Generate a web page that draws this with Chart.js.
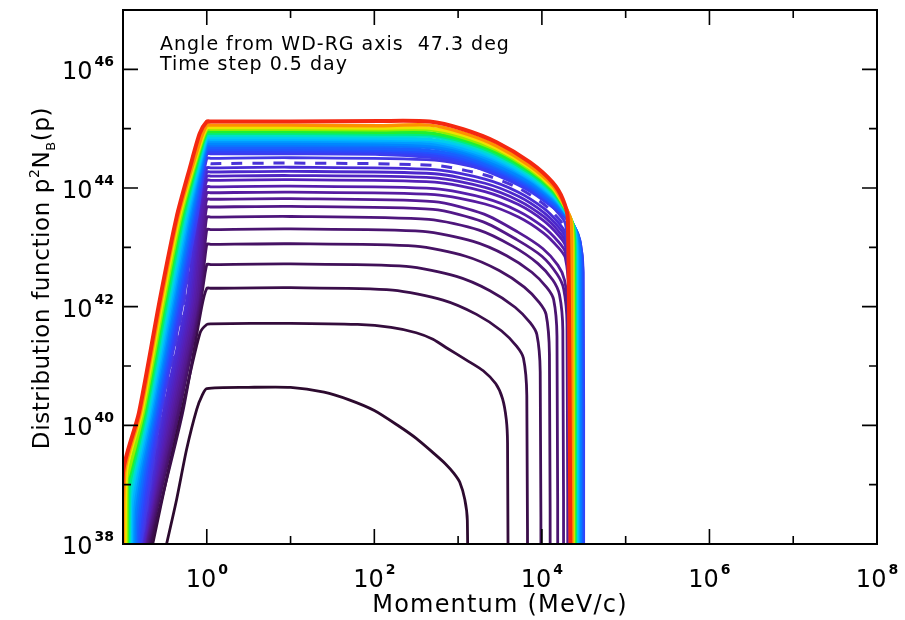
<!DOCTYPE html>
<html>
<head>
<meta charset="utf-8">
<script src="https://cdn.jsdelivr.net/npm/chart.js@4.4.1/dist/chart.umd.min.js"></script>
<style>
  html, body { margin: 0; padding: 0; background: #fff; }
</style>
</head>
<body>
<canvas id="spectra" width="905" height="620"></canvas>
<script>
// Decades shown on the axes (log10 of momentum in MeV/c, log10 of p^2 N_B)
const xDecades = [-1, 0, 1, 2, 3, 4, 5, 6, 7, 8];
const yDecades = [38, 39, 40, 41, 42, 43, 44, 45, 46, 47];
const xLabelled = [0, 2, 4, 6, 8];
const yLabelled = [38, 40, 42, 44, 46];

// Spectra, oldest first. Each vertex is [log10 p, log10 p^2 N_B(p)].
const earlySpectra = [
  [[-0.56,37.5],[-0.48,38.0],[-0.36,38.75],[-0.24,39.6],[-0.12,40.27],[-0.05,40.52],[0,40.62],[0.5,40.64],[1.0,40.64],[1.4,40.56],[1.7,40.43],[2.0,40.25],[2.3,39.98],[2.5,39.78],[2.7,39.54],[2.85,39.35],[2.95,39.19],[3.02,39.04],[3.08,38.75],[3.11,38.4],[3.12,36]],
  [[-0.72,37.5],[-0.645,38],[-0.45,39.3],[-0.27,40.43],[-0.08,41.56],[0,41.70],[0.05,41.71],[1.0,41.72],[1.8,41.70],[2.2,41.65],[2.5,41.56],[2.7,41.45],[2.87,41.3],[3.1,41.1],[3.3,40.92],[3.45,40.7],[3.53,40.45],[3.575,40.1],[3.59,39.7],[3.60,36]],
  [[-0.74,37.5],[-0.67,38],[-0.29,40.2],[-0.06,42.0],[0,42.31],[0.05,42.31],[1.0,42.32],[2.22,42.28],[2.82,42.11],[3.22,41.87],[3.52,41.59],[3.70,41.33],[3.78,41.13],[3.82,40.5],[3.83,36]],
  [[-0.76,37.5],[-0.69,38],[-0.32,40.3],[-0.07,42.1],[0,42.71],[0.05,42.71],[1.0,42.72],[2.38,42.68],[2.98,42.51],[3.38,42.27],[3.68,41.99],[3.86,41.73],[3.94,41.53],[3.98,40.9],[3.99,36]],
  [[-0.77,37.5],[-0.70,38],[-0.34,40.2],[-0.08,42.1],[0,43.05],[0.05,43.05],[1.0,43.06],[2.49,43.02],[3.09,42.85],[3.49,42.61],[3.79,42.33],[3.97,42.07],[4.05,41.87],[4.09,41.2],[4.10,36]],
  [[-0.78,37.5],[-0.71,38],[-0.35,40.2],[-0.09,42.1],[0,43.30],[0.05,43.30],[1.0,43.31],[2.58,43.27],[3.18,43.10],[3.58,42.86],[3.88,42.58],[4.06,42.32],[4.14,42.12],[4.18,41.5],[4.19,36]],
  [[-0.79,37.5],[-0.72,38],[-0.37,40.2],[-0.10,42.1],[-0.03,43.1],[0,43.51],[0.05,43.51],[1.0,43.52],[2.65,43.47],[3.25,43.29],[3.65,43.02],[3.95,42.73],[4.13,42.45],[4.21,42.2],[4.25,41.6],[4.26,36]],
  [[-0.80,37.5],[-0.73,38],[-0.38,40.2],[-0.11,42.1],[-0.04,43.2],[0,43.68],[0.05,43.68],[1.0,43.69],[2.70,43.64],[3.30,43.43],[3.70,43.13],[4.00,42.85],[4.18,42.55],[4.26,42.3],[4.30,41.7],[4.31,36]],
  [[-0.81,37.5],[-0.74,38],[-0.40,40.2],[-0.12,42.1],[-0.05,43.3],[0,43.81],[0.05,43.81],[1.0,43.82],[2.71,43.77],[3.31,43.56],[3.71,43.26],[4.01,42.98],[4.19,42.7],[4.27,42.45],[4.31,41.9],[4.32,36]],
  [[-0.815,37.5],[-0.745,38],[-0.42,40.2],[-0.14,42.1],[-0.06,43.4],[0,43.92],[0.05,43.92],[1.0,43.93],[2.72,43.89],[3.32,43.73],[3.72,43.51],[4.02,43.24],[4.20,42.99],[4.28,42.82],[4.32,42.22],[4.33,36]],
  [[-0.82,37.5],[-0.75,38],[-0.44,40.2],[-0.16,42.1],[-0.07,43.5],[0,44.02],[0.05,44.02],[1.0,44.03],[2.72,43.99],[3.32,43.83],[3.72,43.61],[4.02,43.34],[4.20,43.09],[4.28,42.92],[4.32,42.32],[4.33,36]],
  [[-0.825,37.5],[-0.755,38],[-0.46,40.2],[-0.18,42.1],[-0.08,43.6],[0,44.13],[0.05,44.13],[1.0,44.14],[2.72,44.10],[3.32,43.94],[3.72,43.72],[4.02,43.45],[4.20,43.20],[4.28,43.03],[4.32,42.43],[4.33,36]],
  [[-0.83,37.5],[-0.76,38],[-0.48,40.2],[-0.20,42.1],[-0.09,43.6],[0,44.20],[0.05,44.20],[1.0,44.21],[2.72,44.17],[3.32,44.01],[3.72,43.79],[4.02,43.52],[4.20,43.27],[4.28,43.10],[4.32,42.50],[4.33,36]],
  [[-0.84,37.5],[-0.77,38],[-0.50,40.2],[-0.22,42.1],[-0.10,43.6],[0,44.27],[0.05,44.27],[1.0,44.28],[2.72,44.24],[3.32,44.08],[3.72,43.86],[4.02,43.59],[4.20,43.34],[4.28,43.17],[4.32,42.57],[4.33,36]],
  [[-0.845,37.5],[-0.775,38],[-0.52,40.2],[-0.24,42.1],[-0.11,43.6],[0,44.34],[0.05,44.34],[1.0,44.35],[2.72,44.31],[3.32,44.15],[3.72,43.93],[4.02,43.66],[4.20,43.41],[4.28,43.24],[4.32,42.64],[4.33,36]]
];

// the dashed curve
const markedSpectrum = [[-0.85,37.5],[-0.78,38],[-0.54,40.2],[-0.27,42.1],[-0.12,43.6],[0,44.41],[0.05,44.41],[1.0,44.42],[2.72,44.38],[3.32,44.22],[3.72,44.00],[4.02,43.73],[4.20,43.48],[4.28,43.31],[4.32,42.71],[4.33,36]];

const lateSpectra = [
  [[-0.855,37.5],[-0.785,38],[-0.55,40.2],[-0.28,42.1],[-0.12,43.6],[0,44.50],[0.05,44.50],[1.0,44.51],[2.72,44.47],[3.32,44.31],[3.72,44.09],[4.02,43.82],[4.20,43.57],[4.28,43.40],[4.32,42.80],[4.33,36]],
  [[-0.802,36],[-0.80,37.9],[-0.680,39.2],[-0.560,40.21],[-0.300,42.12],[-0.120,43.51],[-0.040,44.28],[0,44.58],[0.05,44.58],[1,44.58],[2.07,44.57],[2.66,44.52],[3.06,44.42],[3.46,44.22],[3.86,43.95],[4.13,43.68],[4.25,43.55],[4.385,43.32],[4.455,43.08],[4.49,42.58],[4.495,38],[4.5,36]],
  [[-0.812,36],[-0.81,38.0],[-0.701,39.2],[-0.577,40.21],[-0.317,42.12],[-0.136,43.51],[-0.043,44.32],[0,44.62],[0.05,44.62],[1,44.62],[2.07,44.61],[2.66,44.56],[3.06,44.46],[3.46,44.26],[3.86,43.99],[4.13,43.71],[4.25,43.57],[4.386,43.34],[4.452,43.11],[4.485,42.62],[4.49,38],[4.495,36]],
  [[-0.822,36],[-0.82,38.1],[-0.723,39.2],[-0.593,40.21],[-0.335,42.12],[-0.152,43.51],[-0.047,44.35],[0,44.65],[0.05,44.65],[1,44.65],[2.07,44.64],[2.66,44.60],[3.06,44.49],[3.46,44.29],[3.86,44.01],[4.13,43.73],[4.25,43.58],[4.382,43.35],[4.444,43.13],[4.475,42.65],[4.48,38],[4.485,36]],
  [[-0.837,36],[-0.835,38.2],[-0.744,39.2],[-0.610,40.21],[-0.352,42.12],[-0.168,43.51],[-0.05,44.38],[0,44.68],[0.05,44.68],[1,44.68],[2.07,44.67],[2.66,44.63],[3.06,44.53],[3.46,44.32],[3.86,44.04],[4.13,43.75],[4.25,43.59],[4.378,43.36],[4.436,43.15],[4.465,42.68],[4.47,38],[4.475,36]],
  [[-0.852,36],[-0.85,38.3],[-0.765,39.2],[-0.627,40.21],[-0.369,42.12],[-0.184,43.51],[-0.053,44.42],[0,44.72],[0.05,44.72],[1,44.72],[2.07,44.71],[2.66,44.68],[3.06,44.57],[3.46,44.36],[3.86,44.07],[4.13,43.79],[4.25,43.62],[4.374,43.38],[4.428,43.18],[4.455,42.72],[4.46,38],[4.465,36]],
  [[-0.867,36],[-0.865,38.4],[-0.787,39.2],[-0.643,40.21],[-0.387,42.12],[-0.200,43.51],[-0.057,44.45],[0,44.75],[0.05,44.75],[1,44.75],[2.07,44.74],[2.66,44.71],[3.06,44.60],[3.46,44.39],[3.86,44.10],[4.13,43.81],[4.25,43.63],[4.37,43.39],[4.42,43.20],[4.445,42.75],[4.45,38],[4.455,36]],
  [[-0.882,36],[-0.88,38.5],[-0.808,39.2],[-0.660,40.21],[-0.404,42.12],[-0.216,43.51],[-0.06,44.49],[0,44.79],[0.05,44.79],[1,44.79],[2.07,44.78],[2.66,44.75],[3.06,44.64],[3.46,44.43],[3.86,44.14],[4.13,43.84],[4.25,43.65],[4.361,43.41],[4.407,43.23],[4.43,42.79],[4.435,38],[4.44,36]],
  [[-0.897,36],[-0.895,38.6],[-0.829,39.2],[-0.677,40.21],[-0.421,42.12],[-0.232,43.51],[-0.063,44.52],[0,44.82],[0.05,44.82],[1,44.82],[2.07,44.81],[2.66,44.79],[3.06,44.67],[3.46,44.47],[3.86,44.16],[4.13,43.86],[4.25,43.66],[4.357,43.42],[4.399,43.25],[4.42,42.82],[4.425,38],[4.43,36]],
  [[-0.912,36],[-0.91,38.7],[-0.851,39.2],[-0.693,40.21],[-0.439,42.12],[-0.248,43.51],[-0.067,44.55],[0,44.85],[0.05,44.85],[1,44.85],[2.07,44.84],[2.66,44.82],[3.06,44.71],[3.46,44.50],[3.86,44.19],[4.13,43.88],[4.25,43.67],[4.353,43.43],[4.391,43.27],[4.41,42.85],[4.415,38],[4.42,36]],
  [[-0.922,36],[-0.92,38.8],[-0.872,39.2],[-0.710,40.21],[-0.456,42.12],[-0.264,43.51],[-0.07,44.59],[0,44.89],[0.05,44.89],[1,44.89],[2.07,44.88],[2.66,44.87],[3.06,44.75],[3.46,44.54],[3.86,44.22],[4.13,43.91],[4.25,43.69],[4.349,43.45],[4.383,43.30],[4.40,42.89],[4.405,38],[4.41,36]],
  [[-0.932,36],[-0.93,38.9],[-0.893,39.2],[-0.727,40.21],[-0.473,42.12],[-0.280,43.51],[-0.073,44.62],[0,44.92],[0.05,44.92],[1,44.92],[2.07,44.91],[2.66,44.90],[3.06,44.78],[3.46,44.57],[3.86,44.25],[4.13,43.93],[4.25,43.70],[4.35,43.46],[4.38,43.32],[4.395,42.92],[4.40,38],[4.405,36]],
  [[-0.947,36],[-0.945,39.0],[-0.915,39.2],[-0.743,40.21],[-0.491,42.12],[-0.296,43.51],[-0.077,44.65],[0,44.95],[0.05,44.95],[1,44.95],[2.07,44.94],[2.66,44.93],[3.06,44.81],[3.46,44.60],[3.86,44.28],[4.13,43.96],[4.25,43.72],[4.346,43.47],[4.372,43.34],[4.385,42.95],[4.39,38],[4.395,36]],
  [[-0.957,36],[-0.955,39.1],[-0.936,39.2],[-0.760,40.21],[-0.508,42.12],[-0.312,43.51],[-0.08,44.69],[0,44.99],[0.05,44.99],[1,44.99],[2.07,44.98],[2.66,44.98],[3.06,44.85],[3.46,44.64],[3.86,44.31],[4.13,43.99],[4.25,43.74],[4.342,43.49],[4.364,43.37],[4.375,42.99],[4.38,38],[4.385,36]],
  [[-0.962,36],[-0.96,39.2],[-0.777,40.21],[-0.525,42.12],[-0.328,43.51],[-0.083,44.72],[0,45.02],[0.05,45.02],[1,45.02],[2.07,45.01],[2.66,45.01],[3.06,44.89],[3.46,44.67],[3.86,44.34],[4.13,44.01],[4.25,43.75],[4.338,43.50],[4.356,43.39],[4.365,43.02],[4.37,38],[4.375,36]],
  [[-0.982,36],[-0.98,39.2],[-0.793,40.21],[-0.543,42.12],[-0.344,43.51],[-0.087,44.76],[0,45.06],[0.05,45.06],[1,45.06],[2.07,45.05],[2.66,45.06],[3.06,44.93],[3.46,44.71],[3.86,44.37],[4.13,44.04],[4.25,43.77],[4.334,43.52],[4.348,43.42],[4.355,43.06],[4.36,38],[4.365,36]],
  [[-1.002,36],[-1,39.2],[-0.81,40.21],[-0.56,42.12],[-0.36,43.51],[-0.2,44.35],[-0.084,44.92],[0,45.12],[0.05,45.12],[1,45.12],[2.07,45.13],[2.66,45.12],[3.06,44.99],[3.46,44.77],[3.86,44.43],[4.13,44.09],[4.25,43.81],[4.31,43.47],[4.34,38],[4.345,36]]
];

const earlyColors = ['#2c0a2e', '#340c3c', '#3a0e4a', '#401058', '#461264', '#4a1470', '#4e167c', '#521888',
  '#541a94', '#561ca0', '#561eac', '#5420b8', '#5024c2', '#4c28cc', '#482cd6'];
const markedColor = '#4a34d8';
const lateColors = ['#4438e4', '#3c3cf0', '#3044f8', '#2450ff', '#1860ff', '#0c72ff', '#0086ff', '#009cff',
  '#00b4ff', '#00ccf0', '#00e0c8', '#00ec80', '#20f030', '#90f000', '#f0e000', '#ff9000', '#f42810'];

const toPoints = (curve) => curve.map(([lp, lf]) => ({ x: Math.pow(10, lp), y: Math.pow(10, lf) }));

const datasets = [];
let step = 0;
const addSpectrum = (curve, color, extra) => {
  datasets.push(Object.assign({
    data: toPoints(curve),
    borderColor: color,
    borderWidth: 2.8,
    pointRadius: 0,
    fill: false,
    clip: 0,
    order: 1000 - step
  }, extra));
  step++;
};
earlySpectra.forEach((c, i) => addSpectrum(c, earlyColors[i]));
addSpectrum(markedSpectrum, markedColor, { borderDash: [11, 10], borderWidth: 3 });
lateSpectra.forEach((c, i) => addSpectrum(c, lateColors[i], {
  borderWidth: i === lateSpectra.length - 1 ? 4 : (i === 0 ? 2.8 : 3.4)
}));

const FONT = '"DejaVu Sans", "Liberation Sans", sans-serif';

function powerOfTen(ctx, exp, x, y, align) {
  ctx.font = '24px ' + FONT;
  const wb = ctx.measureText('10').width;
  ctx.font = 'bold 14px ' + FONT;
  const we = ctx.measureText(String(exp)).width;
  const total = wb + 2 + we;
  const left = align === 'center' ? x - total / 2 : x - total;
  ctx.font = '24px ' + FONT;
  ctx.fillText('10', left, y);
  ctx.font = 'bold 14px ' + FONT;
  ctx.fillText(String(exp), left + wb + 2, y - 13);
}

// frame, inward ticks on all four sides, labels and annotations
const framePlugin = {
  id: 'frame',
  afterDraw(chart) {
    const { ctx, chartArea: a, scales: { x, y } } = chart;
    ctx.save();
    ctx.strokeStyle = '#000';
    ctx.fillStyle = '#000';
    ctx.lineWidth = 1.6;
    ctx.beginPath();
    xDecades.slice(1, -1).forEach((d) => {
      const px = x.getPixelForValue(Math.pow(10, d));
      const len = d % 2 === 0 ? 15 : 8;
      ctx.moveTo(px, a.bottom); ctx.lineTo(px, a.bottom - len);
      ctx.moveTo(px, a.top); ctx.lineTo(px, a.top + len);
    });
    yDecades.slice(1, -1).forEach((d) => {
      const py = y.getPixelForValue(Math.pow(10, d));
      const len = d % 2 === 0 ? 15 : 8;
      ctx.moveTo(a.left, py); ctx.lineTo(a.left + len, py);
      ctx.moveTo(a.right, py); ctx.lineTo(a.right - len, py);
    });
    ctx.stroke();
    ctx.lineWidth = 2;
    ctx.strokeRect(a.left, a.top, a.right - a.left, a.bottom - a.top);

    ctx.textBaseline = 'alphabetic';
    ctx.textAlign = 'left';
    xLabelled.forEach((d) => {
      powerOfTen(ctx, d, x.getPixelForValue(Math.pow(10, d)), a.bottom + 43, 'center');
    });
    yLabelled.forEach((d) => {
      powerOfTen(ctx, d, a.left - 9, y.getPixelForValue(Math.pow(10, d)) + 10, 'right');
    });

    // axis titles
    ctx.font = '24px ' + FONT;
    ctx.letterSpacing = '1.2px';
    const xt = 'Momentum (MeV/c)';
    ctx.fillText(xt, 500 - ctx.measureText(xt).width / 2, 612);

    ctx.save();
    ctx.translate(41, 278);
    ctx.rotate(-Math.PI / 2);
    ctx.letterSpacing = '0.6px';
    const parts = [
      ['Distribution function p', '23px', 0],
      ['2', '14px', -10],
      ['N', '23px', 0],
      ['B', '13px', 6],
      ['(p)', '23px', 0]
    ];
    let total = 0;
    parts.forEach((p) => { ctx.font = p[1] + ' ' + FONT; total += ctx.measureText(p[0]).width; });
    let cx = -total / 2;
    parts.forEach((p) => {
      ctx.font = p[1] + ' ' + FONT;
      ctx.fillText(p[0], cx, 8 + p[2]);
      cx += ctx.measureText(p[0]).width;
    });
    ctx.restore();

    ctx.font = '19px ' + FONT;
    ctx.letterSpacing = '1px';
    ctx.fillText('Angle from WD-RG axis  47.3 deg', 160, 50);
    ctx.fillText('Time step 0.5 day', 160, 70);
    ctx.restore();
  }
};

new Chart(document.getElementById('spectra'), {
  type: 'line',
  data: { datasets },
  options: {
    responsive: false,
    animation: false,
    events: [],
    layout: { padding: { left: 123, right: 28, top: 10, bottom: 76 } },
    plugins: { legend: { display: false }, tooltip: { enabled: false } },
    elements: { line: { tension: 0.25, borderCapStyle: 'butt', borderJoinStyle: 'round' } },
    scales: {
      x: { type: 'logarithmic', min: 0.1, max: 1e8, display: false },
      y: { type: 'logarithmic', min: 1e38, max: 1e47, display: false }
    }
  },
  plugins: [framePlugin]
});
</script>
</body>
</html>
